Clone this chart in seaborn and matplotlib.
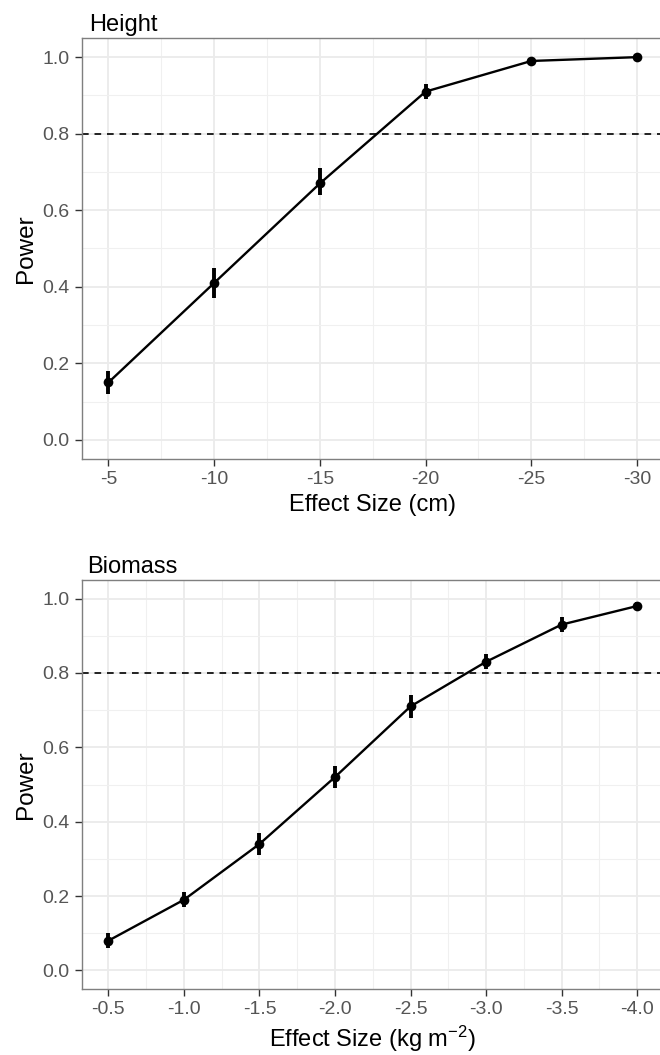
import numpy as np
import pandas as pd
import seaborn as sns
import matplotlib.pyplot as plt
from matplotlib.ticker import MultipleLocator
from matplotlib.transforms import offset_copy

# height panel
height_effect = [-5, -10, -15, -20, -25, -30]
height_power = [0.15, 0.41, 0.67, 0.91, 0.99, 1.00]
height_lo = [0.12, 0.37, 0.64, 0.89, 0.985, 1.00]
height_hi = [0.18, 0.45, 0.71, 0.93, 0.995, 1.00]

# biomass panel
biomass_effect = [-0.5, -1.0, -1.5, -2.0, -2.5, -3.0, -3.5, -4.0]
biomass_power = [0.08, 0.19, 0.34, 0.52, 0.71, 0.83, 0.93, 0.98]
biomass_lo = [0.06, 0.17, 0.31, 0.49, 0.68, 0.81, 0.91, 0.97]
biomass_hi = [0.10, 0.21, 0.37, 0.55, 0.74, 0.85, 0.95, 0.99]

sns.set_theme(style='white')
plt.rcParams['font.family'] = ['Liberation Sans', 'DejaVu Sans']
plt.rcParams['axes.unicode_minus'] = False
plt.rcParams['mathtext.default'] = 'regular'

W, H = 660, 1055
fig = plt.figure(figsize=(W / 100, H / 100), dpi=100)

def px_axes(left, top, right, bottom):
    return fig.add_axes([left / W, 1 - bottom / H, (right - left) / W, (bottom - top) / H])

ax1 = px_axes(82, 38, 663.5, 459)
ax2 = px_axes(82, 580, 663.5, 989)

def draw(ax, x, y, lo, hi, title, xlab, major, minor, xlim, fmt, title_dx):
    df = pd.DataFrame({'effect': x, 'power': y, 'lo': lo, 'hi': hi})
    ax.axhline(0.8, color='black', lw=1.2, linestyle=(0, (4, 3.5)), zorder=2)
    ax.vlines(df['effect'], df['lo'], df['hi'], color='black', lw=2.8, zorder=3)
    sns.lineplot(data=df, x='effect', y='power', ax=ax, color='black', lw=1.7,
                 marker='o', markersize=7, markeredgewidth=0, zorder=4)
    ax.set_xlim(*xlim)
    ax.set_ylim(-0.05, 1.05)
    ax.xaxis.set_major_locator(MultipleLocator(major))
    ax.xaxis.set_minor_locator(MultipleLocator(minor))
    ax.yaxis.set_major_locator(MultipleLocator(0.2))
    ax.yaxis.set_minor_locator(MultipleLocator(0.1))
    ax.xaxis.set_major_formatter(plt.FuncFormatter(lambda v, p: fmt.format(v)))
    ax.yaxis.set_major_formatter(plt.FuncFormatter(lambda v, p: '{:.1f}'.format(v)))
    ax.grid(which='major', color='#EBEBEB', lw=1.3, zorder=0)
    ax.grid(which='minor', color='#F0F0F0', lw=0.8, zorder=0)
    ax.set_axisbelow(True)
    for s in ax.spines.values():
        s.set_color('#7F7F7F')
        s.set_linewidth(1.0)
    ax.tick_params(axis='both', which='major', direction='out', length=5, width=1,
                   color='#333333', labelsize=14, labelcolor='#555555', pad=4,
                   bottom=True, left=True)
    ax.tick_params(which='minor', length=0)
    # title a few pixels in from the panel edge, as in ggplot
    tr = offset_copy(ax.transAxes, fig=fig, x=title_dx, y=7, units='dots')
    ax.text(0, 1, title, transform=tr, fontsize=17, color='black',
            ha='left', va='baseline')
    ax.set_xlabel(xlab, fontsize=17, labelpad=4, color='black')
    ax.set_ylabel('Power', fontsize=17.5, labelpad=4, color='black')

draw(ax1, height_effect, height_power, height_lo, height_hi, 'Height',
     'Effect Size (cm)', 5, 2.5, (-3.75, -31.25), '{:.0f}', 7)
draw(ax2, biomass_effect, biomass_power, biomass_lo, biomass_hi, 'Biomass',
     'Effect Size (kg m$^{-2}$)', 0.5, 0.25, (-0.325, -4.175), '{:.1f}', 5)

fig.savefig('out.png', dpi=100)
